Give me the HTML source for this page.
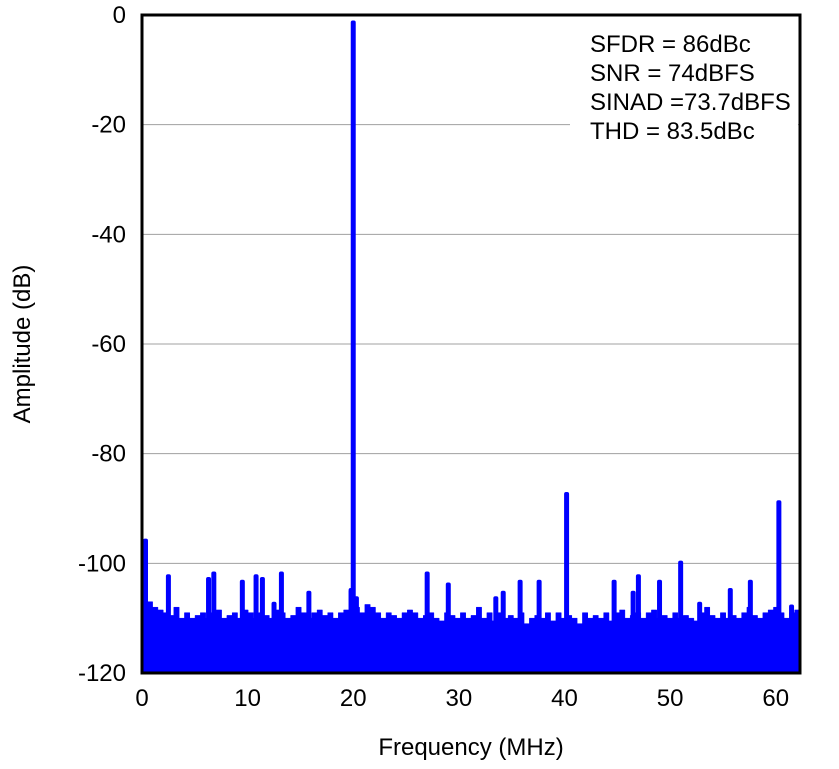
<!DOCTYPE html>
<html><head><meta charset="utf-8"><style>
body{margin:0;background:#fff;font-family:"Liberation Sans",sans-serif}
svg text{font-family:"Liberation Sans",sans-serif}
</style></head><body>
<svg id="c" width="839" height="764">
<g id="grid"></g>
<g id="marks"></g>
<rect x="570" y="22" width="228" height="128" fill="#fff"/>
<g font-size="24" fill="#000">
<text x="590" y="52">SFDR = 86dBc</text>
<text x="590" y="81">SNR = 74dBFS</text>
<text x="590" y="110">SINAD =73.7dBFS</text>
<text x="590" y="139">THD = 83.5dBc</text>
</g>
<rect x="142" y="15" width="658" height="658" fill="none" stroke="#000" stroke-width="3"/>
<g id="axes"></g>
<text x="471" y="755" font-size="24" text-anchor="middle">Frequency (MHz)</text>
<text transform="translate(30,344) rotate(-90)" font-size="24" text-anchor="middle">Amplitude (dB)</text>
</svg>
<script>
const xTicks=[0,10,20,30,40,50,60];
const yTicks=[0,-20,-40,-60,-80,-100,-120];
const noiseFloor=[-103,-107,-108,-108.5,-109,-109.5,-108,-110,-109,-110,-109.5,-109,-110,-109,-108.5,-110,-109.5,-109,-110,-108.5,-109,-110,-109,-109.5,-110,-108.5,-109,-110,-109.5,-108,-109,-110,-109,-108.5,-109.5,-109,-110,-109,-108.5,-105,-108,-109,-107.5,-108,-109,-110,-109,-109.5,-110,-109,-108.5,-109,-110,-109.5,-109,-110,-110.5,-109,-109.5,-110,-109,-110,-109.5,-108,-110,-109,-110.5,-109,-110,-109.5,-110,-109,-111,-110,-109.5,-110,-109,-110.5,-109,-110,-109.5,-110,-111,-109,-110,-109.5,-110,-109,-110.5,-109,-108.5,-110,-109.5,-109,-110,-109,-108.5,-110,-109.5,-110,-109,-110,-109.5,-110,-110.5,-109,-108,-109.5,-110,-109,-110,-109.5,-110,-109,-108,-109.5,-110,-109,-108.5,-108,-109,-110,-109,-108.5];
const spurFreqs=[0,2.5,6.3,6.8,9.5,10.8,11.4,12.5,13.2,15.8,19.8,20,20.3,27,29,33.5,34.2,35.8,37.6,40.2,44.7,46.5,47,49,51,52.8,55.7,57.6,60.3,61.5];
const spurLevels=[-95.5,-102,-102.5,-101.5,-103,-102,-102.5,-107,-101.5,-105,-104.5,-1,-106,-101.5,-103.5,-106,-105,-103,-103,-87,-103,-105,-102,-103,-99.5,-107,-104.5,-103,-88.5,-107.5];
const fMax=62.3;
const X=f=>142+f*(658/fMax);
const Y=d=>15+(-d)*(658/120);
const ns='http://www.w3.org/2000/svg';
function mk(t,a,p){const e=document.createElementNS(ns,t);for(const k in a)e.setAttribute(k,a[k]);p.appendChild(e);return e;}
const grid=document.getElementById('grid'),marks=document.getElementById('marks'),axes=document.getElementById('axes');
yTicks.forEach(v=>{if(v===0||v===-120)return;const l=mk('line',{x1:142,x2:800,y1:Y(v),y2:Y(v),stroke:'#a0a0a0','stroke-width':1},grid);

});
yTicks.forEach(v=>{const t=mk('text',{x:126,y:Y(v)+8,'font-size':24,'text-anchor':'end'},axes);t.textContent=v;

});
xTicks.forEach(v=>{const t=mk('text',{x:X(v),y:706,'font-size':24,'text-anchor':'middle'},axes);t.textContent=v;

});
const step=fMax/noiseFloor.length;
let d='';
noiseFloor.forEach((v,i)=>{const x0=X(i*step),x1=X((i+1)*step);d+=`M${x0},${Y(-120)}V${Y(v)}H${x1}V${Y(-120)}Z`;});
const p=mk('path',{d:d,fill:'#0000ff',stroke:'#0000ff','stroke-width':0.5},marks);


spurFreqs.forEach((f,i)=>{const x=Math.max(143,X(f)-2.5);const r=mk('rect',{x:x,y:Y(spurLevels[i]),width:5,height:Y(-120)-Y(spurLevels[i]),fill:'#0000ff',rx:2},marks);

});
</script>
</body></html>
